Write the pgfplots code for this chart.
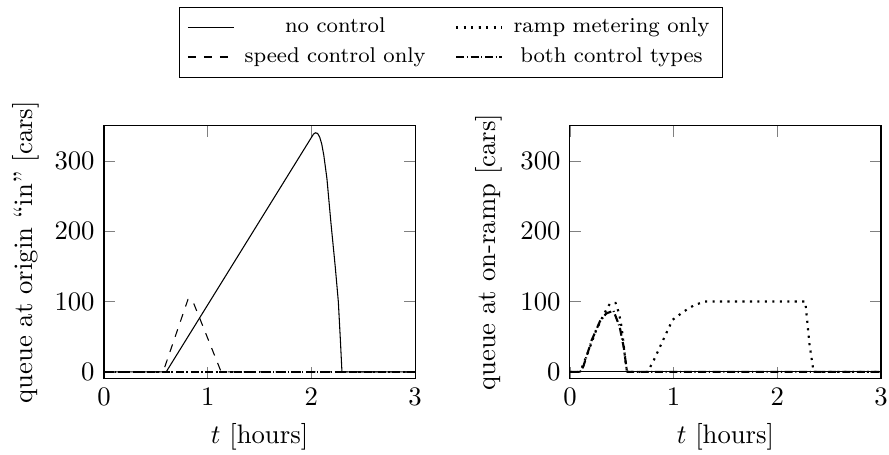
\documentclass[border=0pt]{standalone}
\usepackage{pgfplots}
\pgfplotsset{compat=1.18}
\pgfplotsset{
  queue/.style={
    scale only axis,
    width=116.5pt, height=94.8pt,
    xmin=0, xmax=3, ymin=-10, ymax=350,
    xtick={0,1,2,3}, ytick={0,100,200,300},
    xlabel={$t$ [hours]},
  },
  nocontrol/.style={black, solid, thin},
  ramponly/.style={black, dotted, thick},
  speedonly/.style={black, dashed, thin},
  bothctrl/.style={black, densely dashdotted, thick},
}
\begin{document}
\begin{tikzpicture}
\useasboundingbox (-38.95pt,-28.5pt) rectangle (294pt,141.9pt);
\begin{axis}[queue, at={(0,0)}, anchor=south west,
  ylabel={queue at origin ``in'' [cars]},
  ylabel shift=-1pt,
  legend columns=2,
  legend cell align=center,
  legend style={at={(1.116,1.19)}, anchor=south, draw=black, font=\footnotesize,
    /tikz/every odd column/.append style={column sep=2pt},
    /tikz/every even column/.append style={column sep=9pt}},
]
\addplot[nocontrol] coordinates {(0,0)(0.6,0)(2.02,338)(2.04,340)(2.06,339)(2.08,334)(2.10,324)(2.12,308)(2.15,275)(2.19,210)(2.23,150)(2.26,100)(2.28,45)(2.295,0)(3,0)};
\addlegendentry{no control}
\addplot[ramponly] coordinates {(0,0)(3,0)};
\addlegendentry{ramp metering only}
\addplot[speedonly] coordinates {(0,0)(0.57,0)(0.81,103)(0.85,103)(1.13,0)(3,0)};
\addlegendentry{speed control only}
\addplot[bothctrl] coordinates {(0,0)(3,0)};
\addlegendentry{both control types}
\end{axis}
\begin{axis}[queue, at={(174.5pt,0)}, anchor=south west,
  ylabel={queue at on-ramp [cars]},
]
\addplot[nocontrol] coordinates {(0,0)(3,0)};
\addplot[ramponly] coordinates {(0,0)(0.1,0)(0.18,30)(0.25,58)(0.32,80)(0.385,97)(0.44,98)(0.465,87)(0.49,72)(0.51,50)(0.53,22)(0.55,0)(0.75,0)(0.81,17)(0.87,36)(0.93,55)(0.99,74)(1.1,86)(1.2,95)(1.3,100)(2.27,100)(2.31,40)(2.35,0)(3,0)};
\addplot[speedonly] coordinates {(0,0)(3,0)};
\addplot[bothctrl] coordinates {(0,0)(0.1,0)(0.13,8)(0.21,45)(0.29,72)(0.35,83)(0.42,87)(0.48,64)(0.52,34)(0.545,6)(0.555,0)(3,0)};
\end{axis}
\end{tikzpicture}
\end{document}
